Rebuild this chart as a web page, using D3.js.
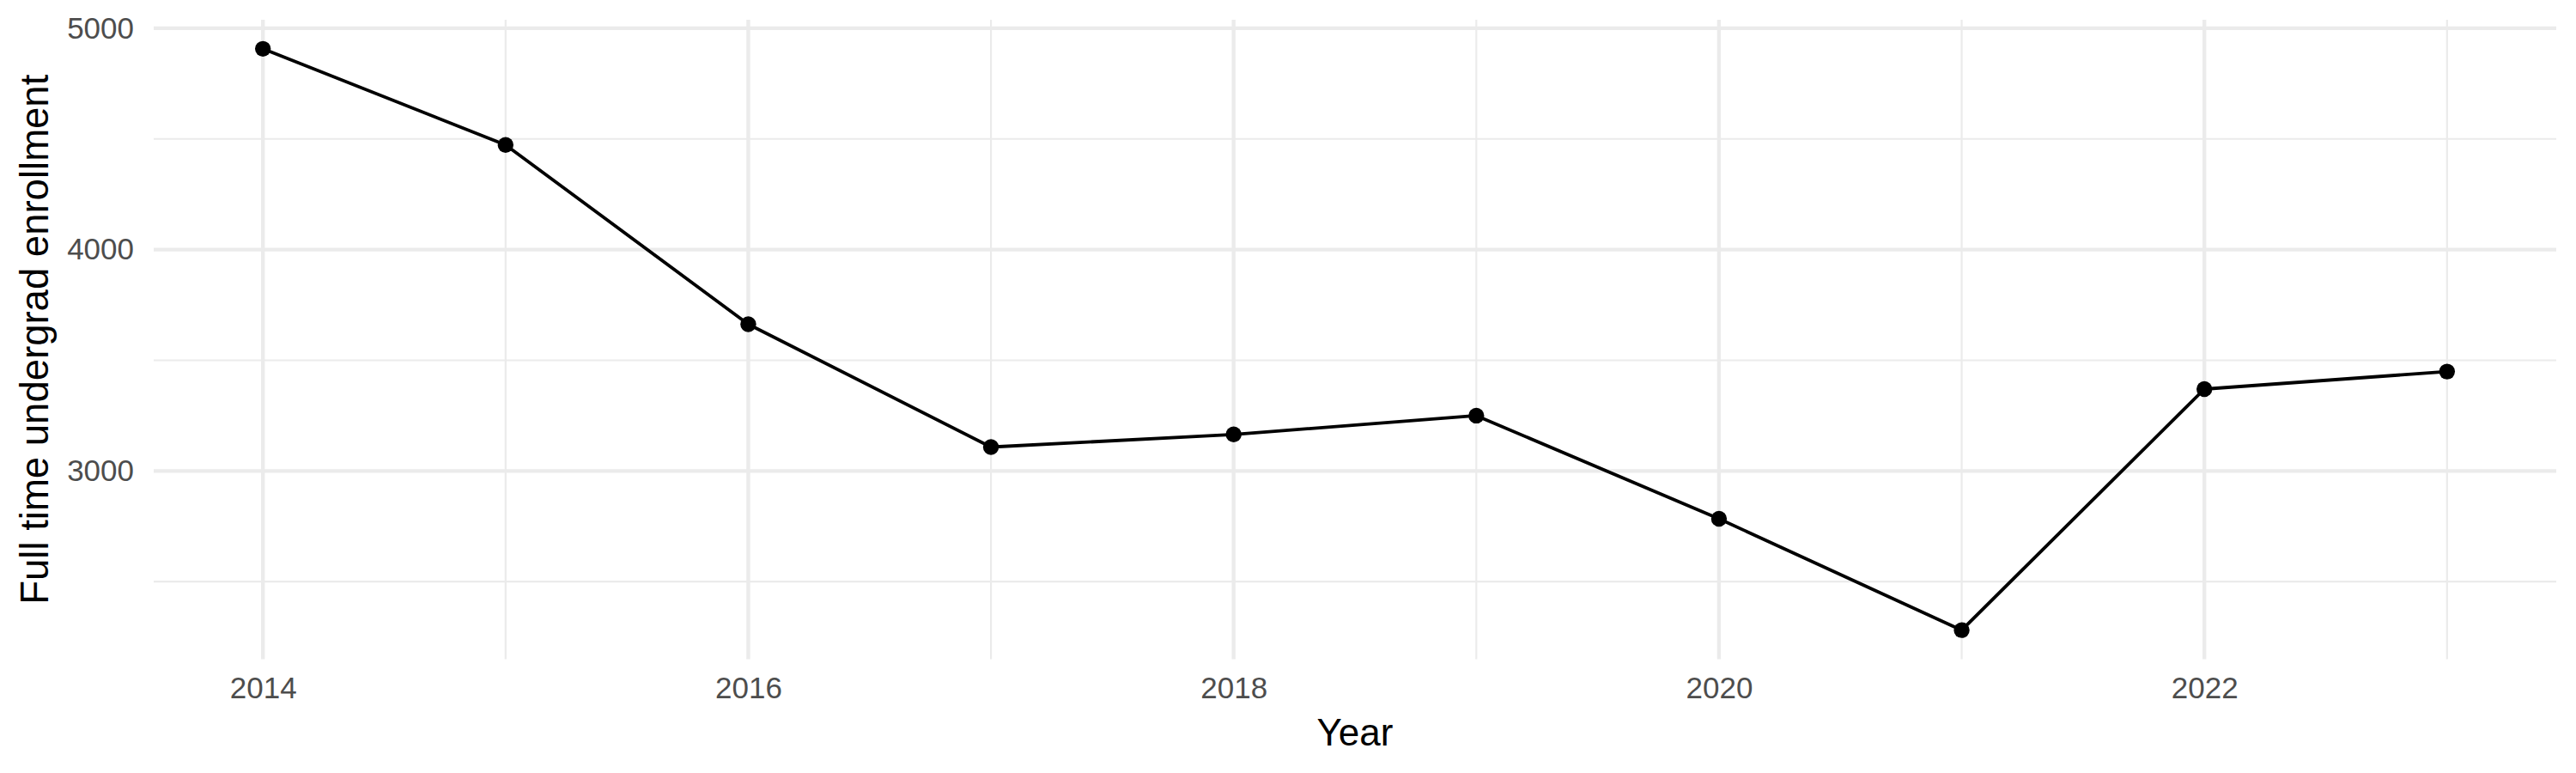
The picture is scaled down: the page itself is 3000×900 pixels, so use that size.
<!DOCTYPE html>
<html>
<head>
<meta charset="utf-8">
<script src="https://cdn.jsdelivr.net/npm/d3@7.9.0/dist/d3.min.js"></script>
<style>
  body { margin: 0; background: #fff; }
  svg { display: block; font-family: "Liberation Sans", Arial, sans-serif; }
</style>
</head>
<body>
<svg id="chart" width="3000" height="900"></svg>
<script>
// enrollment by year
const years = [2014, 2015, 2016, 2017, 2018, 2019, 2020, 2021, 2022, 2023];
const enrollment = [4907, 4473, 3663, 3108, 3165, 3250, 2784, 2281, 3370, 3449];

const xMajor = [2014, 2016, 2018, 2020, 2022];
const xMinor = [2015, 2017, 2019, 2021, 2023];
const yMajor = [3000, 4000, 5000];
const yMinor = [2500, 3500, 4500];

const data = years.map((y, i) => ({ year: y, value: enrollment[i] }));

const svg = d3.select('#chart');
const panel = { left: 179, right: 2977, top: 23, bottom: 767.5 };

// ggplot-ish 5% expansion on both axes
const xExt = d3.extent(years), xPad = (xExt[1] - xExt[0]) * 0.05;
const yExt = d3.extent(enrollment), yPad = (yExt[1] - yExt[0]) * 0.05;

const x = d3.scaleLinear().domain([xExt[0] - xPad, xExt[1] + xPad]).range([panel.left, panel.right]);
const y = d3.scaleLinear().domain([yExt[0] - yPad, yExt[1] + yPad]).range([panel.bottom, panel.top]);

const grid = svg.append('g').attr('stroke', '#EBEBEB');

grid.selectAll('.ymin').data(yMinor).join('line')
  .attr('x1', panel.left).attr('x2', panel.right)
  .attr('y1', d => y(d)).attr('y2', d => y(d))
  .attr('stroke-width', 2.2);
grid.selectAll('.xmin').data(xMinor).join('line')
  .attr('y1', panel.top).attr('y2', panel.bottom)
  .attr('x1', d => x(d)).attr('x2', d => x(d))
  .attr('stroke-width', 2.2);
grid.selectAll('.ymaj').data(yMajor).join('line')
  .attr('x1', panel.left).attr('x2', panel.right)
  .attr('y1', d => y(d)).attr('y2', d => y(d))
  .attr('stroke-width', 4.4);
grid.selectAll('.xmaj').data(xMajor).join('line')
  .attr('y1', panel.top).attr('y2', panel.bottom)
  .attr('x1', d => x(d)).attr('x2', d => x(d))
  .attr('stroke-width', 4.4);

// axes (labels only)
const yAxis = svg.append('g')
  .attr('transform', `translate(${panel.left},0)`)
  .call(d3.axisLeft(y).tickValues(yMajor).tickSize(0).tickPadding(23).tickFormat(d3.format('d')));
const xAxis = svg.append('g')
  .attr('transform', `translate(0,${panel.bottom})`)
  .call(d3.axisBottom(x).tickValues(xMajor).tickSize(0).tickPadding(21).tickFormat(d3.format('d')));

[yAxis, xAxis].forEach(a => {
  a.select('.domain').remove();
  a.selectAll('text')
    .attr('fill', '#4D4D4D')
    .style('font-size', '35px')
    .style('font-family', '"Liberation Sans", Arial, sans-serif');
});

// line + points
const line = d3.line().x(d => x(d.year)).y(d => y(d.value));

svg.append('path')
  .datum(data)
  .attr('d', line)
  .attr('fill', 'none')
  .attr('stroke', '#000')
  .attr('stroke-width', 3.8)
  .attr('stroke-linejoin', 'round');

svg.selectAll('circle').data(data).join('circle')
  .attr('cx', d => x(d.year))
  .attr('cy', d => y(d.value))
  .attr('r', 9.2)
  .attr('fill', '#000');

// titles
svg.append('text')
  .attr('x', (panel.left + panel.right) / 2)
  .attr('y', 868)
  .attr('text-anchor', 'middle')
  .style('font-size', '44px')
  .attr('fill', '#000')
  .text('Year');

svg.append('text')
  .attr('transform', `translate(56,${(panel.top + panel.bottom) / 2}) rotate(-90)`)
  .attr('text-anchor', 'middle')
  .style('font-size', '45.5px')
  .attr('fill', '#000')
  .text('Full time undergrad enrollment');
</script>
</body>
</html>
